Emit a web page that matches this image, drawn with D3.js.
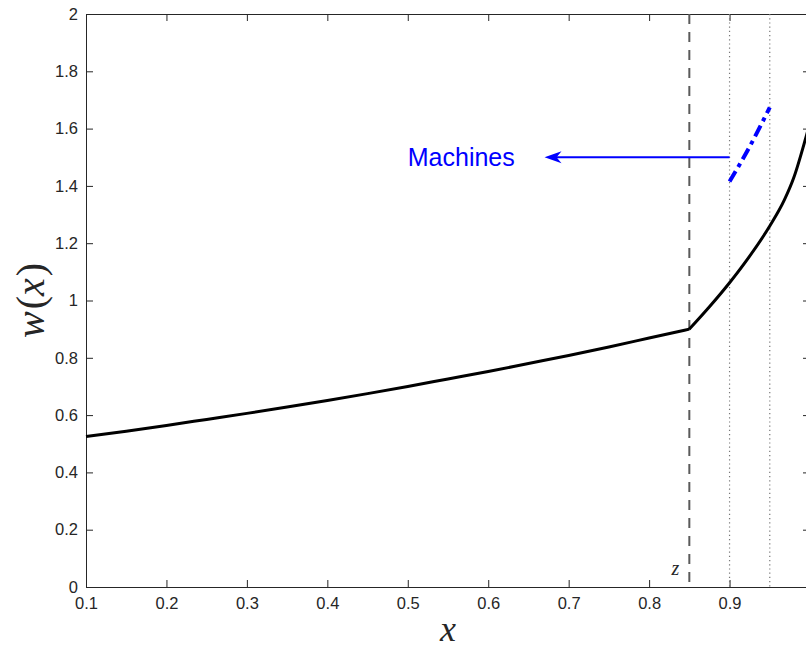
<!DOCTYPE html>
<html>
<head>
<meta charset="utf-8">
<script src="https://d3js.org/d3.v7.min.js"></script>
<style>
body { margin:0; background:#fff; }
svg { display:block; }
</style>
</head>
<body>
<svg id="graph"></svg>
<script>
// values
var xTicks = [0.1,0.2,0.3,0.4,0.5,0.6,0.7,0.8,0.9];
var yTicks = [0,0.2,0.4,0.6,0.8,1,1.2,1.4,1.6,1.8,2];

// wage curve, below z
var lowX = [0.10,0.15,0.20,0.25,0.30,0.35,0.40,0.45,0.50,0.55,0.60,0.65,0.70,0.75,0.80,0.85];
var lowW = [0.525,0.544,0.564,0.585,0.606,0.628,0.651,0.675,0.700,0.726,0.752,0.780,0.808,0.838,0.869,0.900];
// wage curve, above z
var highX = [0.85,0.875,0.90,0.925,0.95,0.968,0.98,0.995,1.0];
var highW = [0.900,0.978,1.062,1.155,1.260,1.350,1.430,1.570,1.620];
// machines
var machX = [0.90,0.925,0.95];
var machW = [1.415,1.537,1.674];

var zLine = 0.85;
var dotLines = [0.9,0.95];
var arrowX = [0.9,0.67];
var arrowY = 1.5;

var screen = {width:806, height:651};
var margins = {top:14, left:86, bottom:64, right:-4};

var width = screen.width - margins.left - margins.right;
var height = screen.height - margins.top - margins.bottom;

var xScale = d3.scaleLinear()
            .domain([0.1,1])
            .range([0,width]);
var yScale = d3.scaleLinear()
            .domain([0,2])
            .range([height,0]);

var svg = d3.select("#graph")
            .attr("width",screen.width)
            .attr("height",screen.height)
            .style("font-family","'Liberation Sans', Arial, sans-serif");

var plot = svg.append("g")
              .attr("transform","translate("+margins.left+","+margins.top+")");

var axisColor = "#262626";

// axes, ticks inward on all four sides
var xAxis = d3.axisBottom(xScale).tickValues(xTicks).tickSizeInner(-7).tickSizeOuter(0).tickFormat(d3.format(".1f"));
var yAxis = d3.axisLeft(yScale).tickValues(yTicks).tickSizeInner(-7).tickSizeOuter(0)
              .tickFormat(function(d){ return d===0||d===1||d===2 ? d : d3.format(".1f")(d); });

var gx = plot.append("g")
    .attr("transform","translate(0,"+height+")")
    .call(xAxis);
gx.selectAll("text").attr("dy","1.15em").attr("y",3);

var gy = plot.append("g").call(yAxis);
gy.selectAll("text").attr("x",-8);

plot.append("g")
    .call(d3.axisTop(xScale).tickValues(xTicks).tickSizeInner(-7).tickSizeOuter(0).tickFormat(""));
plot.append("g")
    .attr("transform","translate("+width+",0)")
    .call(d3.axisRight(yScale).tickValues(yTicks).tickSizeInner(-7).tickSizeOuter(0).tickFormat(""));

plot.selectAll(".domain").attr("stroke",axisColor);
plot.selectAll(".tick line").attr("stroke",axisColor);
plot.selectAll(".tick text").attr("fill","#262626").attr("font-size","16.5px").attr("font-family","'Liberation Sans', Arial, sans-serif");

// vertical reference lines
plot.append("line")
    .attr("x1",xScale(zLine)).attr("x2",xScale(zLine))
    .attr("y1",0).attr("y2",height)
    .attr("stroke","#5a5a5a")
    .attr("stroke-width",2)
    .attr("stroke-dasharray","10,8");

plot.selectAll(".dotline")
    .data(dotLines)
    .enter()
    .append("line")
    .attr("class","dotline")
    .attr("x1",function(d){return xScale(d);})
    .attr("x2",function(d){return xScale(d);})
    .attr("y1",0).attr("y2",height)
    .attr("stroke","#777")
    .attr("stroke-width",1.2)
    .attr("stroke-dasharray","1.2,3");

// curves
var line = d3.line()
             .x(function(d){return xScale(d[0]);})
             .y(function(d){return yScale(d[1]);})
             .curve(d3.curveMonotoneX);

plot.append("path")
    .datum(d3.zip(lowX,lowW))
    .attr("d",line)
    .attr("fill","none").attr("stroke","#000").attr("stroke-width",3);

plot.append("path")
    .datum(d3.zip(highX,highW))
    .attr("d",line)
    .attr("fill","none").attr("stroke","#000").attr("stroke-width",3);

plot.append("path")
    .datum(d3.zip(machX,machW))
    .attr("d",line)
    .attr("fill","none").attr("stroke","#0000ff").attr("stroke-width",4)
    .attr("stroke-dasharray","12,5,4,5");

// arrow + label
var ax0 = xScale(arrowX[0]), ax1 = xScale(arrowX[1]), ay = yScale(arrowY);
plot.append("line")
    .attr("x1",ax0).attr("x2",ax1+10)
    .attr("y1",ay).attr("y2",ay)
    .attr("stroke","#0000ff").attr("stroke-width",2);
plot.append("path")
    .attr("d","M"+ax1+","+ay+"L"+(ax1+17)+","+(ay-6)+"L"+(ax1+12)+","+ay+"L"+(ax1+17)+","+(ay+6)+"Z")
    .attr("fill","#0000ff");

plot.append("text")
    .attr("x",xScale(0.5))
    .attr("y",ay)
    .attr("dy","0.36em")
    .attr("fill","#0000ff")
    .attr("font-size","25px")
    .text("Machines");

// z label
plot.append("text")
    .attr("x",xScale(zLine)-10)
    .attr("y",height-12)
    .attr("text-anchor","end")
    .attr("font-family","'Liberation Serif', serif")
    .attr("font-style","italic")
    .attr("font-size","20px")
    .attr("fill","#262626")
    .text("z");

// axis labels
svg.append("text")
    .attr("x",margins.left+xScale(0.55))
    .attr("y",641)
    .attr("text-anchor","middle")
    .attr("font-family","'Liberation Serif', serif")
    .attr("font-style","italic")
    .attr("font-size","36px")
    .attr("fill","#262626")
    .text("x");

var ylab = svg.append("text")
    .attr("transform","translate(44,"+(margins.top+yScale(1.0))+") rotate(-90)")
    .attr("text-anchor","middle")
    .attr("font-family","'Liberation Serif', serif")
    .attr("font-size","40px")
    .attr("fill","#262626");
ylab.append("tspan").attr("font-style","italic").text("w");
ylab.append("tspan").attr("dx",2).text("(");
ylab.append("tspan").attr("font-style","italic").text("x");
ylab.append("tspan").attr("dx",2).text(")");
</script>
</body>
</html>
